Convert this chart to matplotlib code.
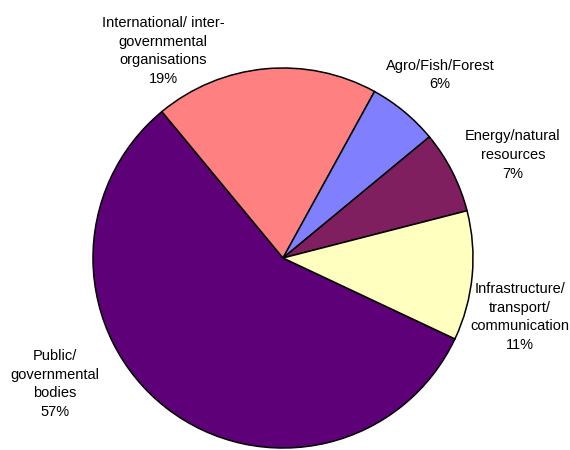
import matplotlib
matplotlib.use('Agg')
import matplotlib.pyplot as plt
from matplotlib import font_manager

labels = ['Public/\ngovernmental\nbodies', 'International/ inter-\ngovernmental\norganisations',
          'Agro/Fish/Forest', 'Energy/natural\nresources', 'Infrastructure/\ntransport/\ncommunication']
values = [57, 19, 6, 7, 11]
colors = ['#5E0078', '#FF8080', '#8080FF', '#7F1F5F', '#FFFFC0']
# label centres in pixels (x, y from top)
label_px = [(55, 384), (163, 51), (440, 75), (513, 155), (520, 317)]

names = [f.name for f in font_manager.fontManager.ttflist]
fam = 'Liberation Sans Narrow' if 'Liberation Sans Narrow' in names else 'Liberation Sans'

fig = plt.figure(figsize=(5.7, 4.5), dpi=100)
cx, cy, r = 283, 258, 190
ax = fig.add_axes([(cx - r) / 570, (450 - cy - r) / 450, 2 * r / 570, 2 * r / 450])
ax.pie(values, colors=colors, startangle=-25.2, counterclock=False, radius=1,
       wedgeprops=dict(edgecolor='black', linewidth=1.1))
ax.set_xlim(-1, 1)
ax.set_ylim(-1, 1)
ax.axis('off')

for lab, v, (px, py) in zip(labels, values, label_px):
    ax.text((px - cx) / r, (cy - py) / r, lab + '\n' + str(v) + '%', ha='center', va='center',
            fontsize=10.5, family=fam, linespacing=1.45, clip_on=False)

fig.savefig('out.png', dpi=100)
